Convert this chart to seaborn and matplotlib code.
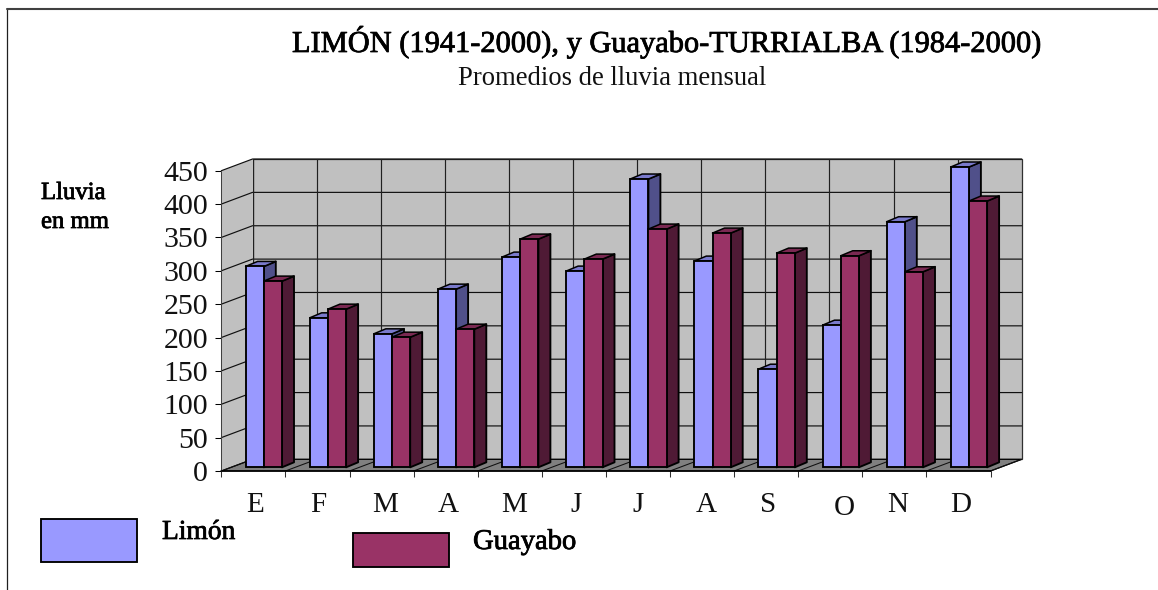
import matplotlib
matplotlib.use("Agg")
import matplotlib.pyplot as plt
import matplotlib.patheffects as pe
from matplotlib.lines import Line2D
from matplotlib.patches import Polygon, Rectangle
from matplotlib.transforms import Affine2D, ScaledTranslation
import pandas as pd
import seaborn as sns

# ---------- data ----------
month_keys = ["Ene", "Feb", "Mar", "Abr", "May", "Jun", "Jul", "Ago", "Sep", "Oct", "Nov", "Dic"]
month_labels = ["E", "F", "M", "A", "M", "J", "J", "A", "S", "O", "N", "D"]
limon = [301, 224, 200, 267, 315, 294, 432, 309, 147, 213, 368, 450]
guayabo = [279, 237, 195, 207, 342, 312, 357, 351, 321, 317, 293, 399]
y_ticks = [0, 50, 100, 150, 200, 250, 300, 350, 400, 450]

# ---------- layout (pixels of the 1158x590 canvas) ----------
W, H, DPI = 1158, 590, 100
PX_LEFT, PX_BASE = 221.3, 471.0
PX_PER_CAT, PX_PER_MM = 64.1, 0.6673
WALL_DX, WALL_DY = 31.2, 11.7
BAR_DX, BAR_DY = 10.45, 3.7
DEPTH_DX, DEPTH_DY = 12.0, 5.0
LABEL_NUDGE_X = [1.65, 0.55, 3.45, 2.35, 4.25, 2.15, 0.05, 3.95, 1.85, 13.75, 3.65, 2.55]
LABEL_NUDGE_Y = [0, 0, 0, 0, 0, 0, 0, 0, 0, -3, 0, 0]

FACE = {"Limón": ("#9999FF", "#50508A", "#7A7ACC"),
        "Guayabo": ("#993366", "#4F1A35", "#7A2952")}
WALL, FLOOR = "#C0C0C0", "#808080"

sns.set_theme(style="white")
plt.rcParams["font.family"] = ["Liberation Serif", "DejaVu Serif"]
plt.rcParams["text.color"] = "black"

fig = plt.figure(figsize=(W / DPI, H / DPI), dpi=DPI, facecolor="white")
ax_right, ax_top = 1022.5, 159.3
ax = fig.add_axes([PX_LEFT / W, 1 - PX_BASE / H,
                   (ax_right - PX_LEFT) / W, (PX_BASE - ax_top) / H])

df = pd.DataFrame({
    "mes": month_keys * 2,
    "serie": ["Limón"] * 12 + ["Guayabo"] * 12,
    "mm": limon + guayabo,
})
sns.barplot(data=df, x="mes", y="mm", hue="serie", order=month_keys,
            hue_order=["Limón", "Guayabo"],
            palette={k: v[0] for k, v in FACE.items()},
            width=36.4 / PX_PER_CAT, gap=0, saturation=1, errorbar=None,
            edgecolor="black", linewidth=1.35, legend=False, ax=ax)

x0 = -0.5
x1 = 11.5
ax.set_xlim(x0, x0 + (ax_right - PX_LEFT) / PX_PER_CAT)
ax.set_ylim(0, (PX_BASE - ax_top) / PX_PER_MM)
ax.patch.set_visible(False)
for s in ax.spines.values():
    s.set_visible(False)
ax.set_xlabel("")
ax.set_ylabel("")

# px -> data unit helpers
ux = lambda px: px / PX_PER_CAT
uy = lambda px: px / PX_PER_MM
wx, wy = ux(WALL_DX), uy(WALL_DY)
y_max = y_ticks[-1]

# walls and floor
ax.add_patch(Polygon([(x0 + wx, wy), (x0 + wx, y_max + wy), (x1 + wx, y_max + wy), (x1 + wx, wy)],
                     closed=True, fc=WALL, ec="#303030", lw=0.9, zorder=0.5, clip_on=False))
ax.add_patch(Polygon([(x0, 0), (x0, y_max), (x0 + wx, y_max + wy), (x0 + wx, wy)],
                     closed=True, fc=WALL, ec="none", zorder=0.6, clip_on=False))
ax.add_patch(Polygon([(x0, 0), (x1, 0), (x1 + wx, wy), (x0 + wx, wy)],
                     closed=True, fc=FLOOR, ec="black", lw=0.9, zorder=0.7, clip_on=False))

# gridlines
for v in y_ticks:
    if v > 0:
        ax.plot([x0, x0 + wx, x1 + wx], [v, v + wy, v + wy], color="#101010", lw=0.85,
                zorder=1, clip_on=False)
for b in range(13):
    xb = x0 + b
    if b < 12:
        ax.plot([xb + wx, xb + wx], [wy, y_max + wy], color="#202020", lw=0.85, zorder=1, clip_on=False)
    ax.plot([xb, xb + wx], [0, wy], color="#101010", lw=0.75, zorder=1.1, clip_on=False)
ax.plot([x0, x0], [0, y_max], color="#404040", lw=0.75, zorder=1.1, clip_on=False)
ax.plot([x0, x1], [0, 0], color="black", lw=1.1, zorder=1.2, clip_on=False)

# bars: the seaborn rectangles are the front faces, sides and tops follow from them
bx, by = ux(BAR_DX), uy(BAR_DY)
dx, dy = ux(DEPTH_DX), uy(DEPTH_DY)
shift = Affine2D().translate(bx, by) + ax.transData
for n, (cont, name) in enumerate(zip(ax.containers, ["Limón", "Guayabo"])):
    z = 3 + 2 * n
    front, side, top = FACE[name]
    for bar in cont:
        l, w, h = bar.get_x(), bar.get_width(), bar.get_height()
        r = l + w
        bar.set_transform(shift)
        bar.set_zorder(z + 1)
        bar.set_clip_on(False)
        bar.set_joinstyle("miter")
        ax.add_patch(Polygon([(r, 0), (r + dx, dy), (r + dx, h + dy), (r, h)], closed=True,
                             fc=side, ec="black", lw=1.35, zorder=z, transform=shift,
                             clip_on=False, joinstyle="round"))
        ax.add_patch(Polygon([(l, h), (l + dx, h + dy), (r + dx, h + dy), (r, h)], closed=True,
                             fc=top, ec="black", lw=1.1, zorder=z, transform=shift,
                             clip_on=False, joinstyle="round"))

# ticks
ax.set_yticks(y_ticks)
ax.set_yticklabels([str(v) for v in y_ticks])
ax.tick_params(axis="y", which="major", left=True, length=4.6, width=0.75, pad=5,
               labelsize=21.5, color="black", labelcolor="#111111")
ax.set_xticks(range(12))
ax.set_xticklabels(month_labels)
ax.set_xticks([x0 + b for b in range(13)], minor=True)
ax.tick_params(axis="x", which="major", bottom=False, length=0, pad=15,
               labelsize=21, labelcolor="#111111")
ax.tick_params(axis="x", which="minor", bottom=True, length=4.4, width=0.75, color="#303030")
for lab, nx, ny in zip(ax.get_xticklabels(), LABEL_NUDGE_X, LABEL_NUDGE_Y):
    lab.set_transform(lab.get_transform() + ScaledTranslation(nx / DPI, ny / DPI, fig.dpi_scale_trans))

# figure level: frame, titles, legend
fx = lambda px: px / W
fy = lambda px: 1 - px / H
fig.add_artist(Line2D([fx(7.5), fx(7.5)], [fy(8.5), fy(590)], color="#202020", lw=0.9))
fig.add_artist(Line2D([fx(7.5), fx(1158)], [fy(8.5), fy(8.5)], color="#404040", lw=1.5))

strong = [pe.withStroke(linewidth=0.55, foreground="black")]
fig.text(fx(292), fy(52), "LIMÓN (1941-2000), y Guayabo-TURRIALBA (1984-2000)", fontsize=21.9,
         ha="left", va="baseline", path_effects=strong)
fig.text(fx(458), fy(85), "Promedios de lluvia mensual", fontsize=19.2, color="#111111",
         ha="left", va="baseline")
fig.text(fx(41), fy(199), "Lluvia", fontsize=17.8, ha="left", va="baseline", path_effects=strong)
fig.text(fx(41), fy(228), "en mm", fontsize=17.8, ha="left", va="baseline", path_effects=strong)

for (px_l, px_t, px_r, px_b), name, tx, ty, fs in [((41, 519, 137, 561.5), "Limón", 162, 539, 19.8),
                                                   ((353, 533, 449, 567), "Guayabo", 473, 549, 20.6)]:
    fig.add_artist(Rectangle((fx(px_l), fy(px_b)), fx(px_r - px_l), (px_b - px_t) / H,
                             transform=fig.transFigure, fc=FACE[name][0], ec="black", lw=1.35))
    fig.text(fx(tx), fy(ty), name, fontsize=fs, ha="left", va="baseline", path_effects=strong)

fig.savefig("out.png", dpi=DPI, facecolor="white")
